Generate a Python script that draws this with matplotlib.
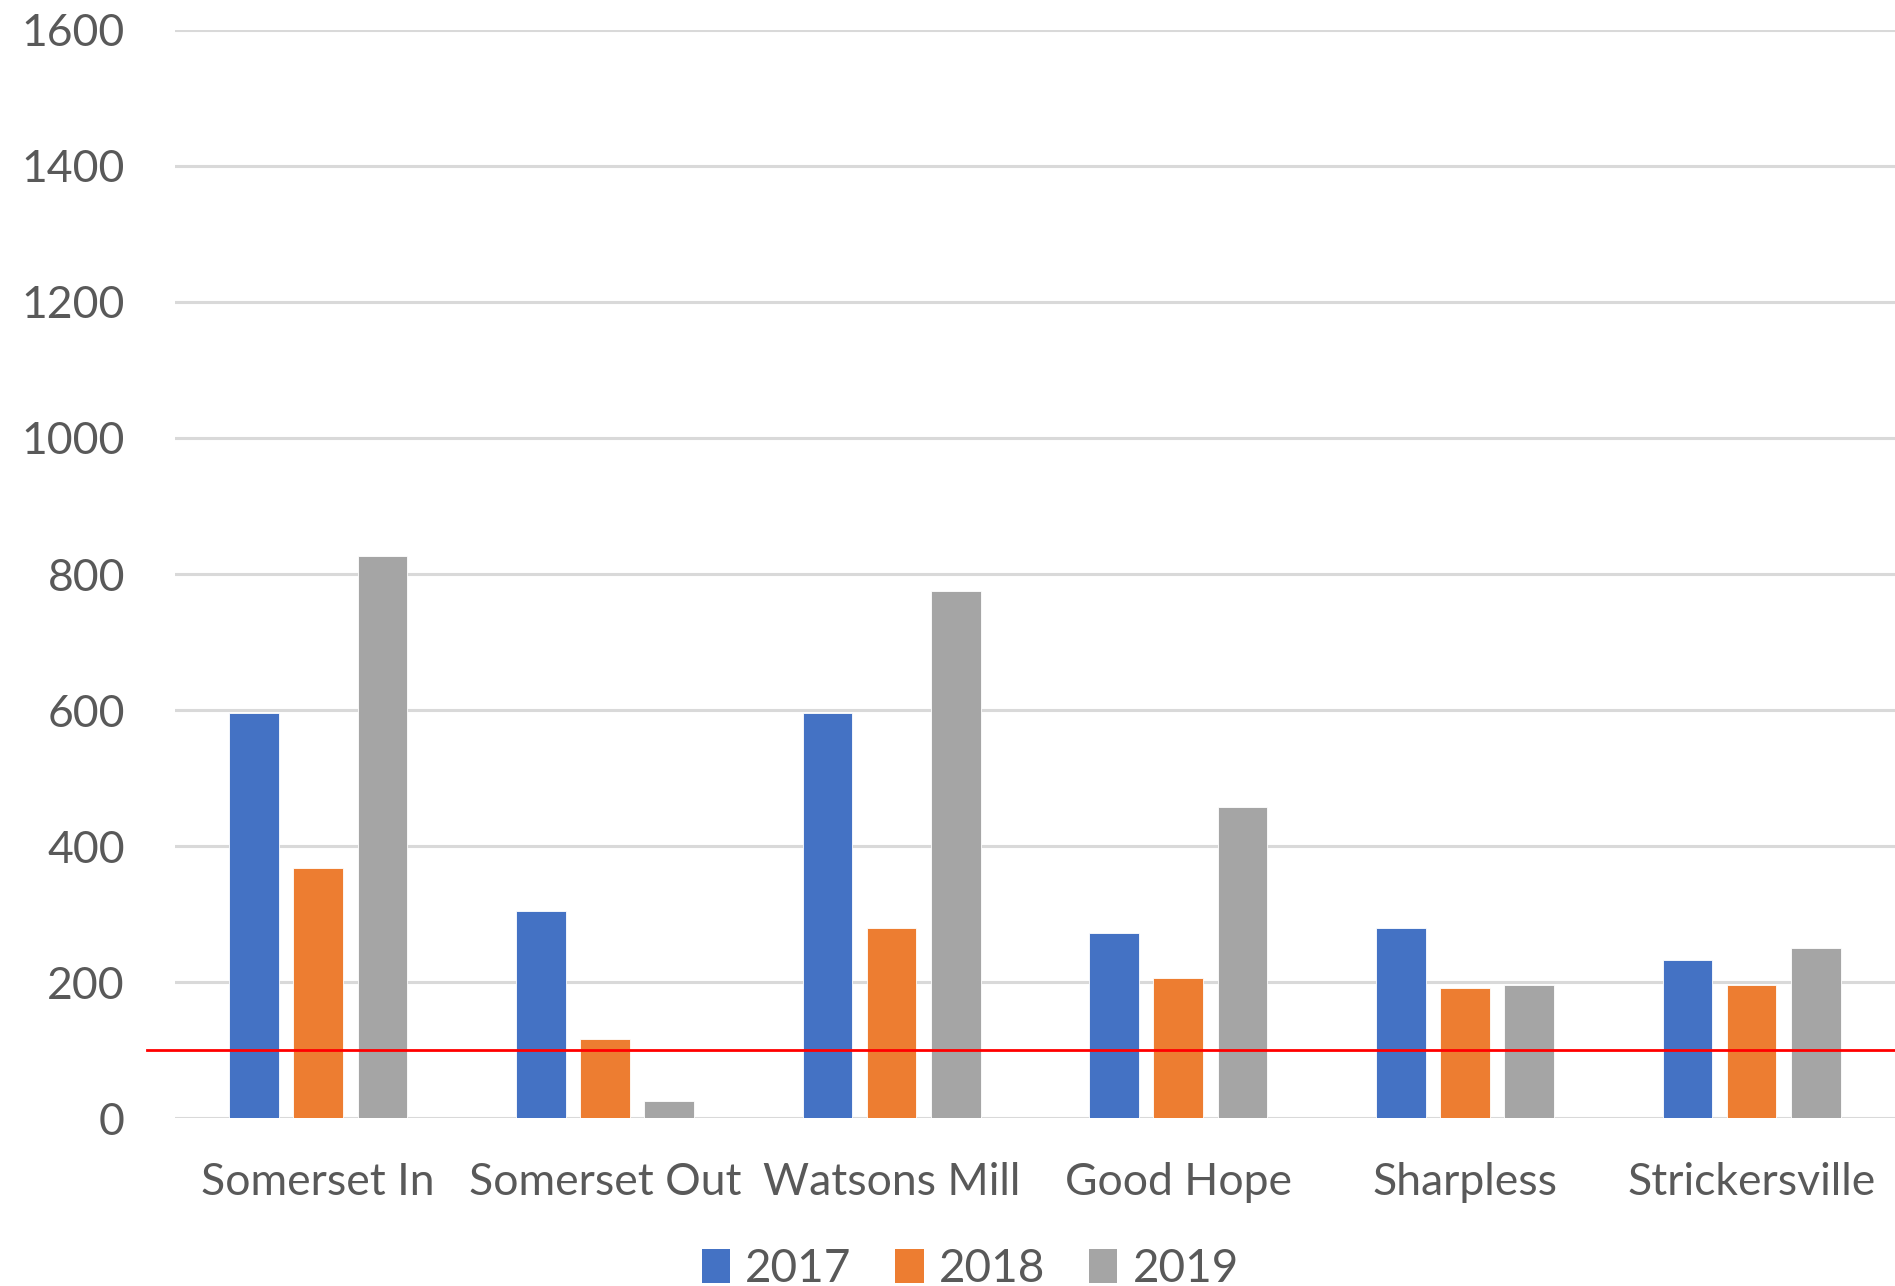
import numpy as np
import matplotlib.pyplot as plt
from matplotlib.patches import Patch

plt.rcParams['font.family'] = ['Lato', 'DejaVu Sans']

sites = ['Somerset In', 'Somerset Out', 'Watsons Mill', 'Good Hope', 'Sharpless', 'Strickersville']
years = ['2017', '2018', '2019']
vals_2017 = [595, 304, 595, 272, 280, 233]
vals_2018 = [367, 116, 280, 206, 191, 195]
vals_2019 = [826, 25, 775, 457, 195, 250]
threshold = 100

colors = ['#4472C4', '#ED7D31', '#A5A5A5']
text_col = '#595959'
fs = 32

fig = plt.figure(figsize=(18.95, 12.86), dpi=100)
ax = fig.add_axes([0.0923, 0.1306, 0.9077, 0.8461])

x = np.arange(len(sites))
step = 0.224
width = 0.173
for i, (vals, c) in enumerate(zip([vals_2017, vals_2018, vals_2019], colors)):
    ax.bar(x + (i - 1) * step, vals, width, color=c, edgecolor='white', linewidth=0.6, zorder=3)

ax.axhline(threshold, xmin=-0.016, xmax=1, color='#FF0000', linewidth=2, clip_on=False, zorder=4)

ax.set_xlim(-0.5, len(sites) - 0.5)
ax.set_ylim(0, 1600)
ax.set_yticks(range(0, 1601, 200))
ax.set_xticks(x)
ax.set_xticklabels(sites)
ax.grid(axis='y', color='#D9D9D9', linewidth=2.2, zorder=0)
for s in ax.spines.values():
    s.set_visible(False)
ax.tick_params(axis='both', length=0, labelsize=fs, labelcolor=text_col)
ax.tick_params(axis='y', pad=36)
ax.tick_params(axis='x', pad=32)

handles = [Patch(facecolor=c, label=y) for c, y in zip(colors, years)]
fig.legend(handles=handles, loc='lower center', bbox_to_anchor=(0.512, -0.035), ncol=3,
           frameon=False, fontsize=fs + 1, labelcolor=text_col, handlelength=0.62,
           handleheight=0.75, handletextpad=0.33, columnspacing=0.95)

fig.savefig('out.png', dpi=100)
